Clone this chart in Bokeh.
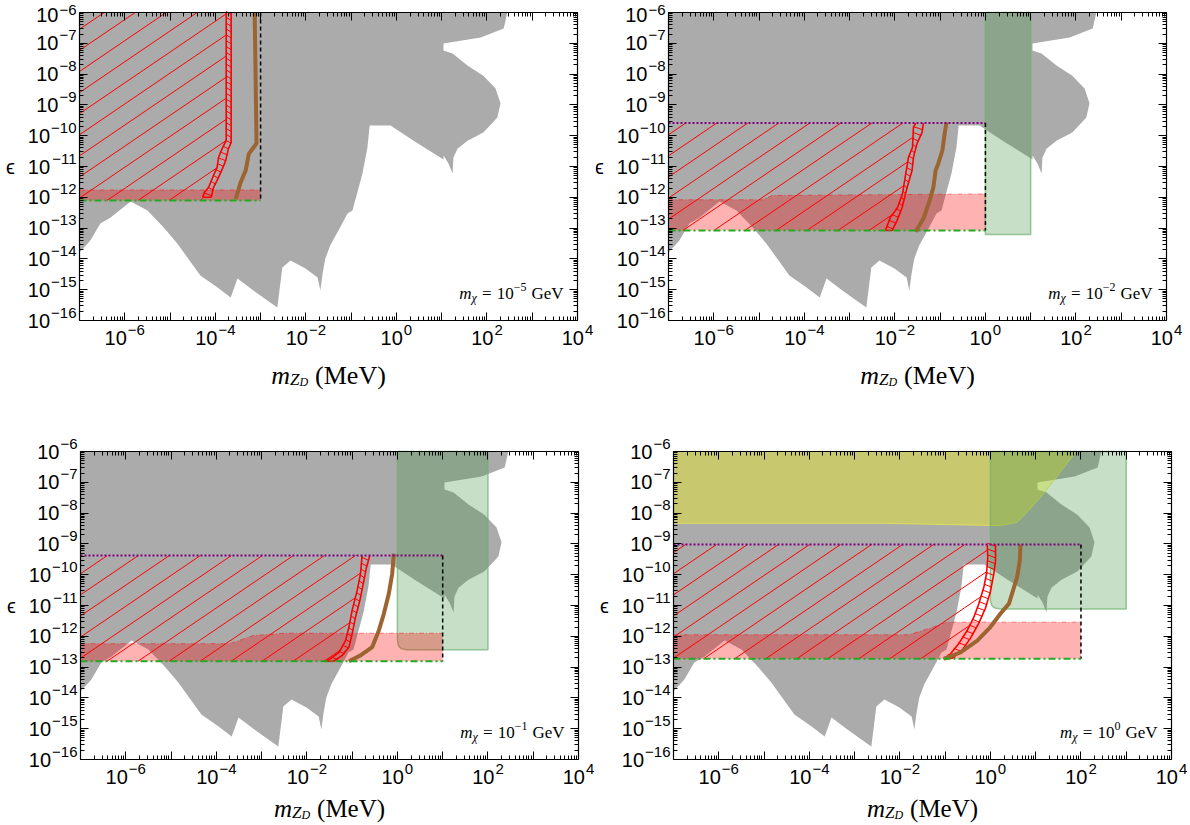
import numpy as np
from bokeh.plotting import figure
from bokeh.models import Range1d, LogAxis, FixedTicker, Label, CustomJSTickFormatter
from bokeh.layouts import column, row
from bokeh.embed import file_html
from bokeh.resources import INLINE

# ---------------- axes ----------------
X_LOG_MIN, X_LOG_MAX = -7.0, 4.0
Y_LOG_MIN, Y_LOG_MAX = -16.0, -6.0
X_TICK_EXPONENTS = list(range(-7, 5))
X_LABEL_EXPONENTS = [-6, -4, -2, 0, 2, 4]
Y_TICK_EXPONENTS = list(range(-16, -5))

# ---------------- common excluded (gray) region: log10 m_ZD [MeV], log10 eps ----------------
GRAY_LOG_M = [-7.0, 2.45, 2.37, 1.86, 1.04, 1.04, 1.24, 1.57, 1.92, 2.19, 2.30, 2.23, 1.92, 1.57,
              1.35, 1.26, 1.24, 1.15, 1.04, 1.04, 0.38, -0.13, -0.59, -0.64, -0.75, -0.97, -1.08,
              -1.28, -1.46, -1.57, -1.63, -1.68, -1.74, -2.01, -2.34, -2.52, -2.63, -2.85, -3.16,
              -3.51, -3.66, -3.95, -4.33, -4.84, -5.14, -5.50, -5.87, -6.32, -6.54, -6.76, -7.0]
GRAY_LOG_EPS = [-6.0, -6.0, -6.52, -6.81, -7.01, -7.23, -7.33, -7.72, -8.05, -8.47, -8.95, -9.41,
                -9.90, -10.16, -10.42, -10.71, -11.23, -10.90, -10.64, -10.77, -10.16, -9.67, -9.67,
                -10.38, -11.23, -12.43, -12.53, -13.08, -13.56, -13.99, -14.47, -15.03, -14.6,
                -14.31, -14.05, -14.28, -15.58, -15.35, -15.03, -14.64, -15.25, -14.93, -14.54,
                -13.5, -12.98, -12.43, -12.14, -12.66, -12.85, -13.40, -13.79]

# ---------------- per-panel values ----------------
MCHI_EXPONENT = ["\u22125", "\u22122", "\u22121", "0"]
BOX_RIGHT_LOG_M = [-3.0, 0.0, 1.0, 2.0]
BOX_TOP_LOG_EPS = [-6.0, -9.59, -9.38, -9.02]
BOX_BOTTOM_LOG_EPS = [-12.10, -13.08, -12.81, -12.73]

P1_PINK_M = [-7.0, -3.0]
P1_PINK_EPS = [-11.76, -11.76]
P2_PINK_M = [-7.0, -4.92, -4.70, 0.0]
P2_PINK_EPS = [-12.08, -12.08, -11.94, -11.89]
P3_PINK_M = [-7.0, -3.7, -3.2, -2.5, 1.0]
P3_PINK_EPS = [-12.24, -12.24, -11.98, -11.90, -11.90]
P4_PINK_M = [-7.0, -1.8, -1.3, -0.95, 2.0]
P4_PINK_EPS = [-11.95, -11.95, -11.72, -11.54, -11.54]

P1_BAND_L_M = [-3.76, -3.76, -3.85, -3.93, -3.96, -4.04, -4.15, -4.24, -4.28]
P1_BAND_L_EPS = [-6.0, -10.16, -10.42, -10.71, -11.03, -11.29, -11.68, -11.84, -12.0]
P1_BAND_R_M = [-3.65, -3.65, -3.71, -3.77, -3.83, -3.96, -4.04, -4.09]
P1_BAND_R_EPS = [-6.0, -10.22, -10.42, -10.8, -11.03, -11.45, -11.68, -12.0]
P2_BAND_L_M = [-1.54, -1.59, -1.61, -1.70, -1.76, -1.83, -1.94, -2.10, -2.21]
P2_BAND_L_EPS = [-9.59, -9.73, -10.38, -10.71, -11.23, -11.88, -12.33, -12.66, -13.08]
P2_BAND_R_M = [-1.37, -1.40, -1.51, -1.59, -1.62, -1.73, -1.84, -1.95, -2.06]
P2_BAND_R_EPS = [-9.59, -9.90, -10.25, -10.71, -11.13, -11.68, -12.33, -12.75, -13.08]
P3_BAND_L_M = [-0.78, -0.815, -0.888, -1.0, -1.07, -1.146, -1.29, -1.477, -1.626]
P3_BAND_L_EPS = [-9.38, -9.97, -10.51, -11.16, -11.70, -12.14, -12.52, -12.73, -12.81]
P3_BAND_R_M = [-0.61, -0.683, -0.755, -0.83, -0.925, -1.0, -1.07, -1.22, -1.405]
P3_BAND_R_EPS = [-9.38, -9.76, -10.30, -10.84, -11.38, -11.92, -12.35, -12.62, -12.81]
P4_BAND_L_M = [-0.07, -0.057, -0.086, -0.146, -0.256, -0.366, -0.512, -0.70, -0.88, -1.03]
P4_BAND_L_EPS = [-9.02, -9.43, -9.97, -10.41, -10.94, -11.38, -11.81, -12.24, -12.57, -12.73]
P4_BAND_R_M = [0.113, 0.113, 0.075, 0.0, -0.11, -0.256, -0.44, -0.62, -0.84, -0.99]
P4_BAND_R_EPS = [-9.02, -9.54, -9.97, -10.55, -11.09, -11.57, -12.06, -12.44, -12.71, -12.73]

P1_BROWN_M = [-3.13, -3.09, -3.26, -3.33, -3.44, -3.55]
P1_BROWN_EPS = [-6.0, -10.25, -10.59, -11.13, -11.51, -12.05]
P2_BROWN_M = [-0.86, -0.90, -0.95, -1.04, -1.10, -1.15, -1.23, -1.36, -1.54]
P2_BROWN_EPS = [-9.57, -9.93, -10.48, -10.90, -11.13, -11.68, -12.10, -12.66, -13.12]
P3_BROWN_M = [-0.079, -0.115, -0.19, -0.30, -0.41, -0.556, -0.815, -1.07]
P3_BROWN_EPS = [-9.32, -9.97, -10.62, -11.27, -11.81, -12.35, -12.62, -12.81]
P4_BROWN_M = [0.665, 0.65, 0.59, 0.50, 0.41, 0.22, 0.0, -0.29, -0.66, -1.03]
P4_BROWN_EPS = [-9.02, -9.54, -10.08, -10.51, -10.94, -11.27, -11.70, -12.14, -12.52, -12.73]

P2_GREEN_M = [0.0, 0.0, 1.0, 1.0]
P2_GREEN_EPS = [-6.0, -13.21, -13.21, -6.0]
P3_GREEN_M = [0.0, 0.0, 0.02, 0.08, 0.2, 2.0, 2.0]
P3_GREEN_EPS = [-6.0, -12.1, -12.3, -12.4, -12.44, -12.44, -6.0]
P4_GREEN_M = [0.0, 0.0, 0.03, 0.08, 0.2, 3.0, 3.0]
P4_GREEN_EPS = [-6.0, -10.85, -11.0, -11.07, -11.11, -11.11, -6.0]

P4_YELLOW_M = [-7.0, -7.0, -2.43, 0.0, 0.186, 0.59, 0.81, 1.11, 1.40, 1.66, 1.88, 1.9]
P4_YELLOW_EPS = [-6.0, -8.33, -8.33, -8.40, -8.41, -8.30, -7.97, -7.48, -6.94, -6.45, -6.03, -6.0]

PANELS = [
    dict(pink=(P1_PINK_M, P1_PINK_EPS), bl=(P1_BAND_L_M, P1_BAND_L_EPS), br=(P1_BAND_R_M, P1_BAND_R_EPS),
         brown=(P1_BROWN_M, P1_BROWN_EPS), green=None, yellow=None, purple=False),
    dict(pink=(P2_PINK_M, P2_PINK_EPS), bl=(P2_BAND_L_M, P2_BAND_L_EPS), br=(P2_BAND_R_M, P2_BAND_R_EPS),
         brown=(P2_BROWN_M, P2_BROWN_EPS), green=(P2_GREEN_M, P2_GREEN_EPS), yellow=None, purple=True),
    dict(pink=(P3_PINK_M, P3_PINK_EPS), bl=(P3_BAND_L_M, P3_BAND_L_EPS), br=(P3_BAND_R_M, P3_BAND_R_EPS),
         brown=(P3_BROWN_M, P3_BROWN_EPS), green=(P3_GREEN_M, P3_GREEN_EPS), yellow=None, purple=True),
    dict(pink=(P4_PINK_M, P4_PINK_EPS), bl=(P4_BAND_L_M, P4_BAND_L_EPS), br=(P4_BAND_R_M, P4_BAND_R_EPS),
         brown=(P4_BROWN_M, P4_BROWN_EPS), green=(P4_GREEN_M, P4_GREEN_EPS),
         yellow=(P4_YELLOW_M, P4_YELLOW_EPS), purple=True),
]

# ---------------- style / layout ----------------
W_BOX, H_BOX = 498, 308          # size of each plotting box in pixels
BORDERS = [  # left, right, top, bottom margins around each box
    (79, 18, 12, 111),
    (73, 24, 12, 111),
    (80, 17, 20, 66),
    (78, 19, 20, 66),
]
XLABEL_BASELINE = [-55, -55, -49, -49]
XLABEL_SIZE = [26, 26, 25, 25]
DX = (X_LOG_MAX - X_LOG_MIN) / W_BOX
DY = (Y_LOG_MAX - Y_LOG_MIN) / H_BOX
HATCH_SPACING = 0.685      # decades between diagonal hatch lines
HATCH_PHASE = -0.23
RUNG_SPACING = 0.19        # decades between rungs inside the red band

ARIAL_W = {"0": 0.556, "1": 0.556, "2": 0.556, "3": 0.556, "4": 0.556, "5": 0.556, "6": 0.556,
           "7": 0.556, "8": 0.556, "9": 0.556, "\u2212": 0.584}
TIMES_W = {" ": 0.25, "=": 0.564, "\u2212": 0.564, "G": 0.722, "e": 0.444, "V": 0.722, "(": 0.333,
           ")": 0.333, "M": 0.889, "m": 0.722, "Z": 0.556, "D": 0.722, "\u03c7": 0.55}

TICK_FONT = "Liberation Sans"
SERIF = "Liberation Serif"
BASE_SIZE = 20
EXP_SIZE = 15
EXP_GAP = 1


def tw(s, size, table):
    return sum(table.get(c, 0.5) for c in s) * size


def e10(a):
    return [10.0 ** v for v in a]


def hatch_lines(lm, le, top, bot):
    order = np.argsort(le)
    ys, xs = np.array(le)[order], np.array(lm)[order]
    out_x, out_y = [], []
    y = np.linspace(bot, top, 1500)
    xr = np.interp(y, ys, xs)
    for k in range(-4, 30):
        c = HATCH_PHASE - HATCH_SPACING * k
        x = y - c
        ok = (x >= X_LOG_MIN) & (x <= xr)
        idx = np.flatnonzero(ok)
        if idx.size < 2:
            continue
        breaks = np.flatnonzero(np.diff(idx) > 1)
        starts = np.r_[idx[0], idx[breaks + 1]]
        ends = np.r_[idx[breaks], idx[-1]]
        for s, e in zip(starts, ends):
            if e > s:
                out_x.append(e10([x[s], x[e]]))
                out_y.append(e10([y[s], y[e]]))
    return out_x, out_y


def rungs(lm, le, rm, re_):
    lo = max(min(le), min(re_))
    hi = min(max(le), max(re_))
    ol, orr = np.argsort(le), np.argsort(re_)
    out_x, out_y = [], []
    for yv in np.arange(lo + RUNG_SPACING / 2, hi, RUNG_SPACING):
        xl = np.interp(yv, np.array(le)[ol], np.array(lm)[ol])
        xr = np.interp(yv, np.array(re_)[orr], np.array(rm)[orr])
        out_x.append(e10([xl, xr]))
        out_y.append(e10([yv + 0.05, yv - 0.05]))
    return out_x, out_y


def make_panel(i):
    bl, br, bt, bb = BORDERS[i]
    d = PANELS[i]
    p = figure(width=bl + W_BOX + br, height=bt + H_BOX + bb,
               x_axis_type="log", y_axis_type="log",
               x_axis_location=None, y_axis_location=None,
               x_range=Range1d(10 ** (X_LOG_MIN - bl * DX), 10 ** (X_LOG_MAX + br * DX)),
               y_range=Range1d(10 ** (Y_LOG_MIN - bb * DY), 10 ** (Y_LOG_MAX + bt * DY)),
               toolbar_location=None, output_backend="svg", min_border=0)
    p.grid.visible = False
    p.outline_line_color = None
    p.background_fill_color = "white"
    p.border_fill_color = "white"

    def txt_screen(x, y, text, size, font=TICK_FONT, style="normal", align="left", baseline="middle"):
        # x, y in pixels relative to the bottom-left corner of the plotting box
        p.add_layout(Label(x=bl + x, y=bb + y, x_units="screen", y_units="screen", text=text,
                           text_font=font, text_font_size=f"{size}px", text_font_style=style,
                           text_align=align, text_baseline=baseline, text_color="black"))

    def txt_data(x, y, dx, dy, text, size, align="left"):
        p.add_layout(Label(x=x, y=y, x_offset=dx, y_offset=dy, text=text,
                           text_font=TICK_FONT, text_font_size=f"{size}px",
                           text_align=align, text_baseline="middle", text_color="black"))

    xt = FixedTicker(ticks=[10.0 ** k for k in X_TICK_EXPONENTS],
                     minor_ticks=[m * 10.0 ** k for k in range(-7, 4) for m in range(2, 10)])
    yt = FixedTicker(ticks=[10.0 ** k for k in Y_TICK_EXPONENTS],
                     minor_ticks=[m * 10.0 ** k for k in range(-16, -6) for m in range(2, 10)])
    xb = (10.0 ** X_LOG_MIN, 10.0 ** X_LOG_MAX)
    yb = (10.0 ** Y_LOG_MIN, 10.0 ** Y_LOG_MAX)
    axes = [("below", xt, 10.0 ** Y_LOG_MIN, xb), ("above", xt, 10.0 ** Y_LOG_MAX, xb),
            ("left", yt, 10.0 ** X_LOG_MIN, yb), ("right", yt, 10.0 ** X_LOG_MAX, yb)]

    right = BOX_RIGHT_LOG_M[i]
    top = BOX_TOP_LOG_EPS[i]
    bot = BOX_BOTTOM_LOG_EPS[i]

    # gray excluded region
    p.patch(e10(GRAY_LOG_M), e10(GRAY_LOG_EPS), fill_color="#ababab", line_color=None)

    # yellow region
    if d["yellow"] is not None:
        ym, ye = d["yellow"]
        p.patch(e10(ym), e10(ye), fill_color="#ffff00", fill_alpha=0.35,
                line_color="#e6e650", line_width=1, line_alpha=0.8)

    # green region
    if d["green"] is not None:
        gm, ge = d["green"]
        p.patch(e10(gm), e10(ge), fill_color="#419641", fill_alpha=0.3,
                line_color="#6fb26f", line_width=1.5, line_alpha=0.7)

    # pink band
    pm, pe = d["pink"]
    p.patch(e10(list(pm) + [right, X_LOG_MIN]), e10(list(pe) + [bot, bot]),
            fill_color="#ff0000", fill_alpha=0.3, line_color=None)
    p.line(e10(pm), e10(pe), line_color="#ff0000", line_alpha=0.45, line_width=1, line_dash="5 2 1 2")

    # diagonal hatching left of the band
    lm, le = d["bl"]
    hx, hy = hatch_lines(lm, le, top, bot)
    p.multi_line(hx, hy, line_color="#ff0000", line_width=1)

    # red hatched band
    rm, re_ = d["br"]
    rx, ry = rungs(lm, le, rm, re_)
    p.multi_line(rx, ry, line_color="#ff0000", line_width=1)
    p.line(e10(lm), e10(le), line_color="#ff0000", line_width=1.6)
    p.line(e10(rm), e10(re_), line_color="#ff0000", line_width=1.6)
    p.line(e10([lm[-1], rm[-1]]), e10([le[-1], re_[-1]]), line_color="#ff0000", line_width=1.6)

    # brown curve
    bm, be = d["brown"]
    p.line(e10(bm), e10(be), line_color="#9b6431", line_width=4)

    # box lines
    if d["purple"]:
        p.line(e10([X_LOG_MIN, right]), e10([top, top]), line_color="#800080", line_width=2, line_dash="2 2")
    p.line(e10([right, right]), e10([top, bot]), line_color="black", line_width=1.5, line_dash="4 3")
    p.line(e10([X_LOG_MIN, right]), e10([bot, bot]), line_color="#22aa22", line_width=2, line_dash="7 3 2 3")

    # frame axes placed at the box edges
    for loc, tk, fixed, bounds in axes:
        ax = LogAxis(ticker=tk, fixed_location=fixed, bounds=bounds,
                     formatter=CustomJSTickFormatter(code="return '';"),
                     major_label_text_font_size="1px", major_label_text_alpha=0,
                     major_label_standoff=0, major_tick_in=8, major_tick_out=0,
                     minor_tick_in=4, minor_tick_out=0, axis_line_color="black",
                     axis_line_width=1.2, major_tick_line_color="black", minor_tick_line_color="black")
        p.add_layout(ax, loc)

    # tick labels (y)
    for k in Y_TICK_EXPONENTS:
        ex = "\u2212" + str(-k)
        wexp = tw(ex, EXP_SIZE, ARIAL_W)
        at_top = (k == Y_TICK_EXPONENTS[-1]) and bt < 16
        dy10 = -2 if at_top else 0
        dy_exp = 3 if at_top else 8
        txt_data(10.0 ** X_LOG_MIN, 10.0 ** k, -3 - wexp - EXP_GAP, dy10, "10", BASE_SIZE, align="right")
        txt_data(10.0 ** X_LOG_MIN, 10.0 ** k, -3, dy_exp, ex, EXP_SIZE, align="right")
    # tick labels (x)
    for k in X_LABEL_EXPONENTS:
        ex = ("\u2212" + str(-k)) if k < 0 else str(k)
        w10 = tw("10", BASE_SIZE, ARIAL_W)
        wexp = tw(ex, EXP_SIZE, ARIAL_W)
        left = -(w10 + EXP_GAP + wexp) / 2
        txt_data(10.0 ** k, 10.0 ** Y_LOG_MIN, left, -17, "10", BASE_SIZE)
        txt_data(10.0 ** k, 10.0 ** Y_LOG_MIN, left + w10 + EXP_GAP, -9, ex, EXP_SIZE)

    # axis labels
    txt_screen(-69, H_BOX / 2, "\u03f5", 20, align="center")
    fs = XLABEL_SIZE[i]
    parts = [("m", fs, "italic", 0, 0), ("Z", 17, "italic", -4, 0), ("D", 12, "italic", -6, 7),
             ("(MeV)", fs, "normal", 0, 0)]
    total = sum(tw(t, s, TIMES_W) + g for t, s, _, _, g in parts)
    x0 = W_BOX / 2 - total / 2
    for t, s, st, dy, g in parts:
        txt_screen(x0, XLABEL_BASELINE[i] + dy, t, s, font=SERIF, style=st, baseline="alphabetic")
        x0 += tw(t, s, TIMES_W) + g

    # m_chi annotation
    parts = [("m", 17, "italic", 0, 0), ("\u03c7", 12, "italic", -4, 4), ("=", 17, "normal", 0, 5),
             ("10", 17, "normal", 0, 0), (MCHI_EXPONENT[i], 12, "normal", 7, 5), ("GeV", 17, "normal", 0, 0)]
    total = sum(tw(t, s, TIMES_W) + g for t, s, _, _, g in parts)
    x0 = 484 - total
    for t, s, st, dy, g in parts:
        txt_screen(x0, 27 + dy, t, s, font=SERIF, style=st, baseline="alphabetic")
        x0 += tw(t, s, TIMES_W) + g
    return p


figs = [make_panel(i) for i in range(4)]
layout = column(row(figs[0], figs[1]), row(figs[2], figs[3]))
open("out.html", "w").write(file_html(layout, INLINE))
